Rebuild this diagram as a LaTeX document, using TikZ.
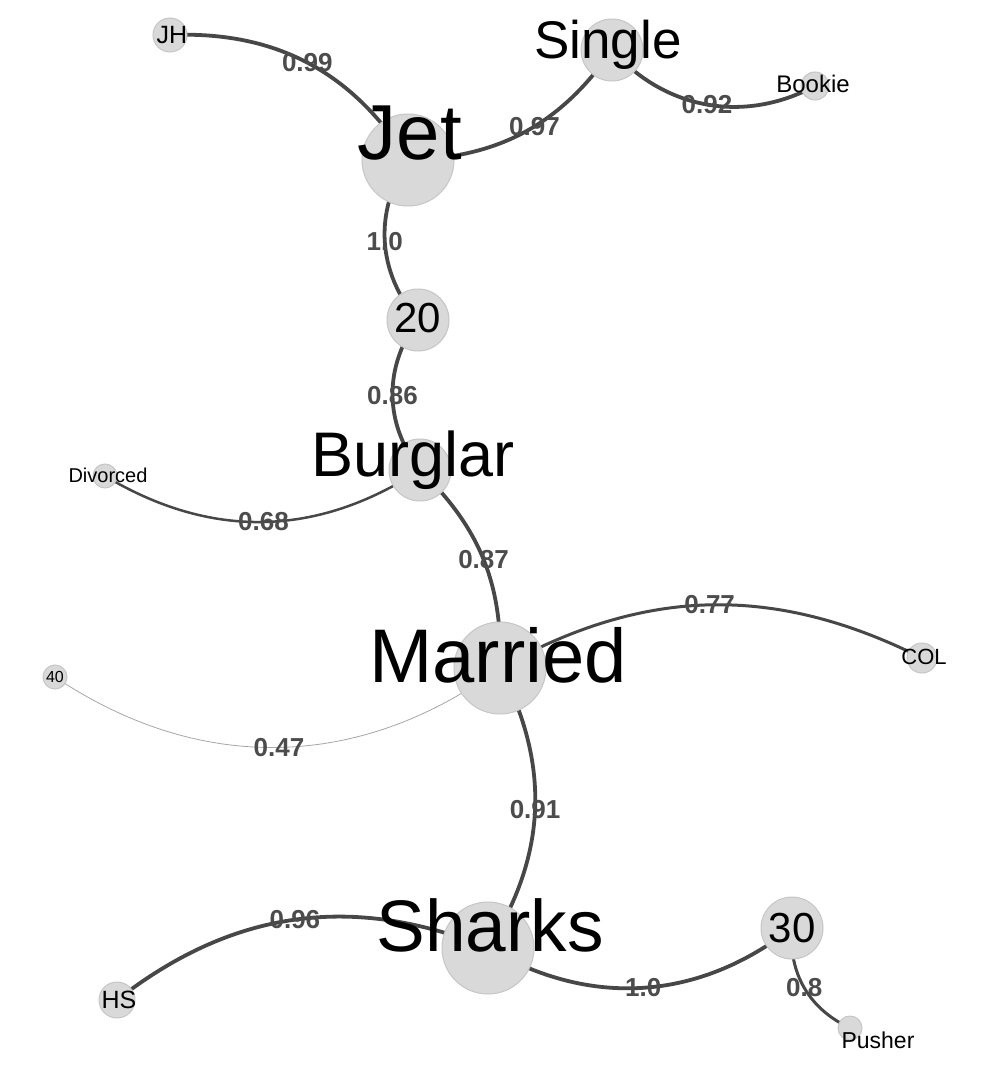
\documentclass[tikz,border=0pt]{standalone}
\usepackage{fontspec}
\setmainfont{Liberation Sans}
\usetikzlibrary{backgrounds}
\begin{document}
\begin{tikzpicture}[x=1pt,y=1pt,
  vert/.style={circle,fill=gray!30,draw=gray!45,line width=1pt,inner sep=0pt},
  lab/.style={font=\fontsize{#1}{#1}\selectfont,text=black,inner sep=0pt},
  edge/.style={draw=black!72,line width=3.8pt},
  elab/.style={font=\fontsize{26}{26}\selectfont\bfseries,text=black!70,inner sep=1pt}]
\useasboundingbox (0,0) rectangle (993,-1083);
% vertices
\node[vert,minimum size=34pt] (jh) at (170,-35) {};
\node[vert,minimum size=92pt] (jet) at (408,-160) {};
\node[vert,minimum size=62pt] (single) at (612,-50) {};
\node[vert,minimum size=28pt] (bookie) at (815,-86) {};
\node[vert,minimum size=62pt] (v20) at (418,-320) {};
\node[vert,minimum size=62pt] (burglar) at (420,-470) {};
\node[vert,minimum size=24pt] (divorced) at (105,-476) {};
\node[vert,minimum size=92pt] (married) at (500,-668) {};
\node[vert,minimum size=30pt] (col) at (922,-658) {};
\node[vert,minimum size=24pt] (v40) at (55,-677) {};
\node[vert,minimum size=92pt] (sharks) at (488,-948) {};
\node[vert,minimum size=62pt] (v30) at (792,-928) {};
\node[vert,minimum size=36pt] (hs) at (117,-1000) {};
\node[vert,minimum size=24pt] (pusher) at (850,-1028) {};
% texts
\node[lab=25] (jht) at (172,-35) {JH};
\node[lab=78] (jett) at (410,-133) {Jet};
\node[lab=53] (singlet) at (608,-45) {Single};
\node[lab=24] (bookiet) at (813,-84) {Bookie};
\node[lab=42] (v20t) at (418,-318) {20};
\node[lab=63] (burglart) at (413,-460) {Burglar};
\node[lab=20] (divorcedt) at (108,-475) {Divorced};
\node[lab=76] (marriedt) at (498,-655) {Married};
\node[lab=22] (colt) at (924,-657) {COL};
\node[lab=16] (v40t) at (55,-677) {40};
\node[lab=73] (sharkst) at (490,-925) {Sharks};
\node[lab=42] (v30t) at (792,-928) {30};
\node[lab=25] (hst) at (119,-1000) {HS};
\node[lab=23] (pushert) at (878,-1040) {Pusher};
\begin{scope}[on background layer]
\fill[white] (0,0) rectangle (993,-1083);
\draw[edge] (jh.center) to[bend left=30] node[elab]{0.99} (jet.center);
\draw[edge] (jet.center) to[bend right=27] node[elab,pos=0.55]{0.97} (single.center);
\draw[edge] (single.center) to[bend right=38] node[elab]{0.92} (bookie.center);
\draw[edge] (jet.center) to[bend right=37] node[elab]{1.0} (v20.center);
\draw[edge] (v20.center) to[bend right=37] node[elab]{0.86} (burglar.center);
\draw[edge,line width=2.5pt] (burglar.center) to[bend left=32] node[elab]{0.68} (divorced.center);
\draw[edge] (burglar.center) to[bend left=24] node[elab]{0.87} (married.center);
\draw[edge,line width=3pt] (married.center) to[bend left=28] node[elab]{0.77} (col.center);
\draw[edge,draw=black!35,line width=0.8pt] (married.center) to[bend left=35] node[elab]{0.47} (v40.center);
\draw[edge] (married.center) to[bend left=30] node[elab]{0.91} (sharks.center);
\draw[edge] (sharks.center) to[bend right=30] node[elab]{0.96} (hs.center);
\draw[edge] (sharks.center) to[bend right=34] node[elab]{1.0} (v30.center);
\draw[edge,line width=3pt] (v30.center) to[bend right=35] node[elab]{0.8} (pusher.center);
\end{scope}
\end{tikzpicture}
\end{document}
